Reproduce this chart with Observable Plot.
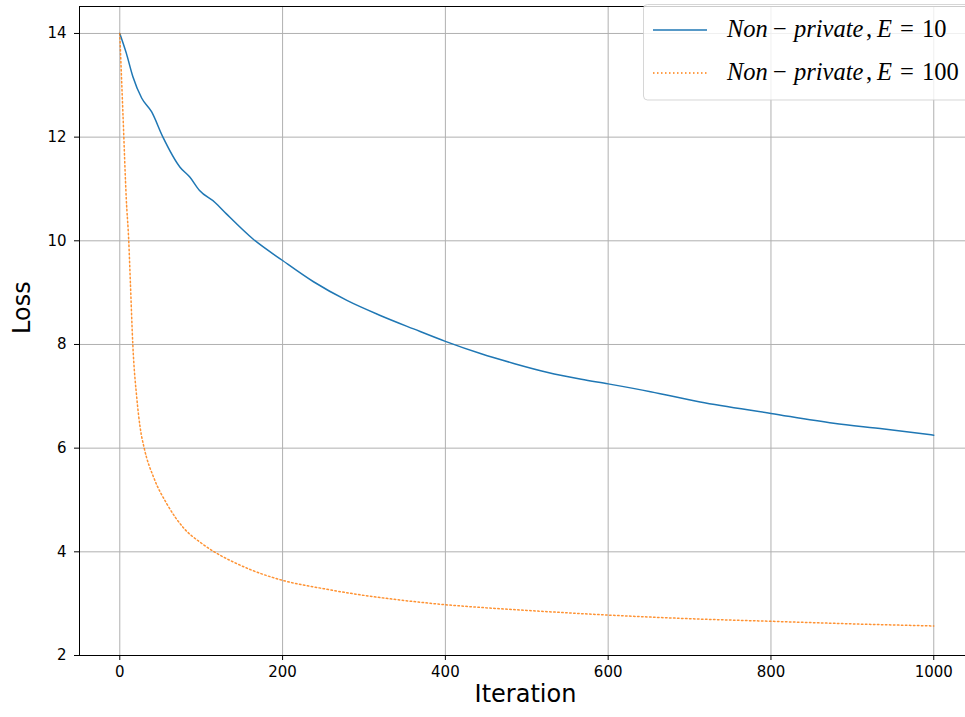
<!DOCTYPE html>
<html>
<head>
<meta charset="utf-8">
<script src="https://cdn.jsdelivr.net/npm/d3@7"></script>
<script src="https://cdn.jsdelivr.net/npm/@observablehq/plot@0.6"></script>
<style>
  html, body { margin: 0; padding: 0; background: #fff; }
  #chart svg { display: block; }
</style>
</head>
<body>
<div id="chart"></div>
<script>
// ---- data ----
const xTicks = [0, 200, 400, 600, 800, 1000];
const yTicks = [2, 4, 6, 8, 10, 12, 14];
const xLabel = "Iteration";
const yLabel = "Loss";
const seriesE = ["10", "100"];

const iterE10 = [0, 8, 16, 27, 39, 53, 74, 86, 98, 117, 131, 164, 200, 238, 279, 320, 361, 400, 444, 485, 526, 567, 600, 652, 713, 800, 877, 939, 1000];
const lossE10 = [14.0, 13.62, 13.17, 12.75, 12.49, 12.0, 11.42, 11.23, 10.97, 10.74, 10.52, 10.03, 9.62, 9.21, 8.85, 8.56, 8.3, 8.06, 7.82, 7.63, 7.46, 7.33, 7.24, 7.09, 6.89, 6.67, 6.48, 6.37, 6.25];

const iterE100 = [0, 4, 8, 11, 13, 16, 21, 25, 30, 42, 58, 79, 100, 116, 140, 160, 200, 250, 300, 350, 400, 450, 500, 600, 700, 800, 900, 1000];
const lossE100 = [14.0, 12.4, 10.8, 10.0, 9.2, 8.0, 6.95, 6.4, 6.0, 5.42, 4.92, 4.45, 4.17, 4.0, 3.8, 3.66, 3.45, 3.29, 3.16, 3.06, 2.98, 2.92, 2.87, 2.78, 2.71, 2.66, 2.61, 2.57];

// ---- build ----
const blue = "#1f77b4", orange = "#ff7f0e";
const dE10 = iterE10.map((x, i) => ({iter: x, loss: lossE10[i]}));
const dE100 = iterE100.map((x, i) => ({iter: x, loss: lossE100[i]}));

const xDomain = [-49.5, 1039];
const yDomain = [2, 14.52];

const svg = Plot.plot({
  width: 965,
  height: 717,
  marginLeft: 79,
  marginRight: 0,
  marginTop: 6,
  marginBottom: 62,
  style: {background: "#fff", fontFamily: "'DejaVu Sans', sans-serif", fontSize: "15px", color: "#000"},
  x: {domain: xDomain},
  y: {domain: yDomain},
  marks: [
    Plot.gridX(xTicks, {stroke: "#b0b0b0", strokeOpacity: 1, strokeWidth: 1}),
    Plot.gridY(yTicks, {stroke: "#b0b0b0", strokeOpacity: 1, strokeWidth: 1}),
    Plot.line(dE10, {x: "iter", y: "loss", stroke: blue, strokeWidth: 1.5, curve: "monotone-x"}),
    Plot.line(dE100, {x: "iter", y: "loss", stroke: orange, strokeWidth: 1.5, strokeOpacity: 0.85, strokeDasharray: "1.5,2.5", curve: "monotone-x"}),
    Plot.ruleX([xDomain[0]], {stroke: "#000", strokeWidth: 1}),
    Plot.ruleY([yDomain[0]], {stroke: "#000", strokeWidth: 1}),
    Plot.ruleY([yDomain[1]], {stroke: "#000", strokeWidth: 1}),
    Plot.axisX(xTicks, {tickSize: 5, tickPadding: 6, label: null, tickFormat: d => String(d)}),
    Plot.axisY(yTicks, {tickSize: 5, tickPadding: 8, label: null, tickFormat: d => String(d)}),
    Plot.text([xLabel], {text: d => d, frameAnchor: "bottom", dy: 46, dx: 3, fontSize: 24}),
    Plot.text([yLabel], {text: d => d, frameAnchor: "left", rotate: -90, dx: -57, dy: 3, fontSize: 24})
  ]
});

// ---- legend (matplotlib-style, upper right) ----
const lg = d3.select(svg).append("g").attr("class", "legend");
lg.append("rect")
  .attr("x", 643.5).attr("y", 4.5).attr("width", 340).attr("height", 95.5).attr("rx", 4)
  .attr("fill", "#fff").attr("fill-opacity", 0.8)
  .attr("stroke", "#cccccc").attr("stroke-opacity", 0.8).attr("stroke-width", 1);

const entries = [
  {e: seriesE[0], color: blue, dash: null, cy: 30, base: 37},
  {e: seriesE[1], color: orange, dash: "1.5,2.5", cy: 73, base: 80}
];
entries.forEach(en => {
  lg.append("line")
    .attr("x1", 653).attr("x2", 707).attr("y1", en.cy).attr("y2", en.cy)
    .attr("stroke", en.color).attr("stroke-width", 1.5)
    .attr("stroke-dasharray", en.dash);
  const parts = [
    ["Non", true, 727], ["\u2212", false, 773], ["private", true, 794],
    [",", false, 866], ["E", true, 877], ["=", false, 900], [en.e, false, 922]
  ];
  const t = lg.append("text")
    .attr("y", en.base)
    .attr("text-anchor", "start")
    .attr("font-family", "'Liberation Serif', 'DejaVu Serif', serif")
    .attr("font-size", 24.5)
    .attr("fill", "#000");
  parts.forEach(([s, it, x]) => {
    t.append("tspan").attr("x", x).attr("text-anchor", "start")
      .attr("font-style", it ? "italic" : "normal").text(s);
  });
});

document.getElementById("chart").appendChild(svg);
</script>
</body>
</html>
